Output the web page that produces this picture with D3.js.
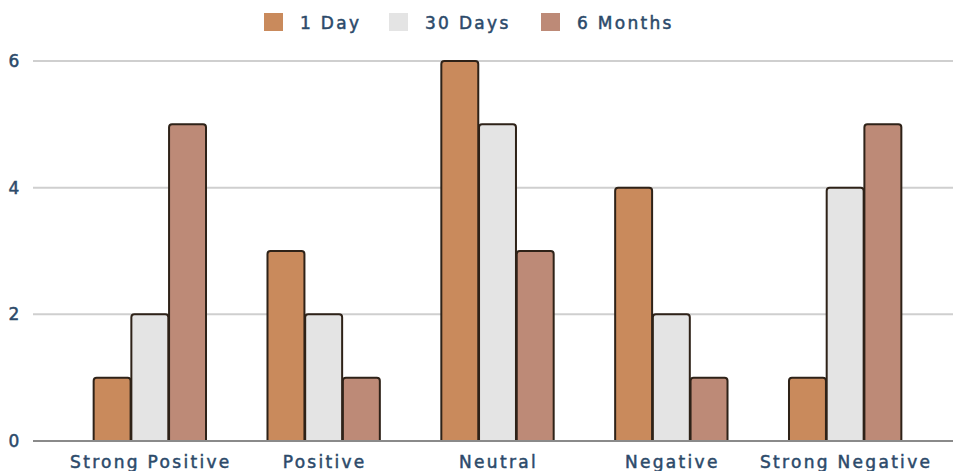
<!DOCTYPE html>
<html>
<head>
<meta charset="utf-8">
<script src="https://cdn.jsdelivr.net/npm/d3@7"></script>
<style>
  html, body { margin: 0; padding: 0; background: #fff; }
  svg text { font-family: "DejaVu Sans", Verdana, sans-serif; fill: #2c4a6a; stroke: #2c4a6a; stroke-width: 0.5px; }
</style>
</head>
<body>
<svg id="chart" width="953" height="471"></svg>
<script>
const categories = ["Strong Positive", "Positive", "Neutral", "Negative", "Strong Negative"];
const seriesNames = ["1 Day", "30 Days", "6 Months"];
const oneDay = [1, 3, 6, 4, 1];
const thirtyDays = [2, 2, 5, 2, 4];
const sixMonths = [5, 1, 3, 1, 5];
const yTicks = [0, 2, 4, 6];
const colors = ["#c98a5c", "#e4e4e4", "#bd8a77"];

(function () {
const seriesValues = [oneDay, thirtyDays, sixMonths];
const rows = categories.map((c, i) => ({ cat: c, vals: seriesValues.map(s => s[i]) }));

const svg = d3.select("#chart");
const plotLeft = 63, plotRight = 932, plotTop = 61, plotBottom = 441;

const x0 = d3.scaleBand().domain(categories).range([plotLeft, plotRight]).paddingInner(0.345).paddingOuter(0.172);
const x1 = d3.scaleBand().domain(seriesNames).range([0, x0.bandwidth()]).padding(0.02);
const y = d3.scaleLinear().domain([0, 6]).range([plotBottom, plotTop]);

// horizontal gridlines
svg.append("g").selectAll("line").data(yTicks.filter(t => t > 0)).join("line")
  .attr("x1", 33).attr("x2", 953)
  .attr("y1", d => y(d)).attr("y2", d => y(d))
  .attr("stroke", "#cfcfcf").attr("stroke-width", 2);

// y tick labels
svg.append("g").selectAll("text").data(yTicks).join("text")
  .attr("x", 14).attr("y", d => y(d) + 6)
  .attr("text-anchor", "middle")
  .style("font-size", "17px")
  .text(d => d);

// bars with rounded top corners
const r = 3;
function barPath(x, yTop, w, yBot) {
  return `M${x},${yBot} L${x},${yTop + r} Q${x},${yTop} ${x + r},${yTop} ` +
         `L${x + w - r},${yTop} Q${x + w},${yTop} ${x + w},${yTop + r} L${x + w},${yBot}`;
}
const groups = svg.append("g").selectAll("g").data(rows).join("g")
  .attr("transform", d => `translate(${x0(d.cat)},0)`);
groups.selectAll("path").data(d => d.vals.map((v, i) => ({ v, i }))).join("path")
  .attr("d", d => barPath(x1(seriesNames[d.i]), y(d.v), x1.bandwidth(), y(0)))
  .attr("fill", d => colors[d.i])
  .attr("stroke", "#2e2218").attr("stroke-width", 2);

// baseline
svg.append("line").attr("x1", 33).attr("x2", 953).attr("y1", y(0)).attr("y2", y(0))
  .attr("stroke", "#8a8a8a").attr("stroke-width", 2);

// category labels
svg.append("g").selectAll("text").data(categories).join("text")
  .attr("x", d => x0(d) + x0.bandwidth() / 2 + 1).attr("y", 468)
  .attr("text-anchor", "middle")
  .style("font-size", "17px").style("letter-spacing", "2.3px")
  .text(d => d);

// legend
const legendX = [264, 389, 541];
const lg = svg.append("g").selectAll("g").data(seriesNames).join("g")
  .attr("transform", (d, i) => `translate(${legendX[i]},13)`);
lg.append("rect").attr("width", 19).attr("height", 18).attr("fill", (d, i) => colors[i]);
lg.append("text").attr("x", 36).attr("y", 16)
  .style("font-size", "17px").style("letter-spacing", "2.3px")
  .text(d => d);
})();
</script>
</body>
</html>
